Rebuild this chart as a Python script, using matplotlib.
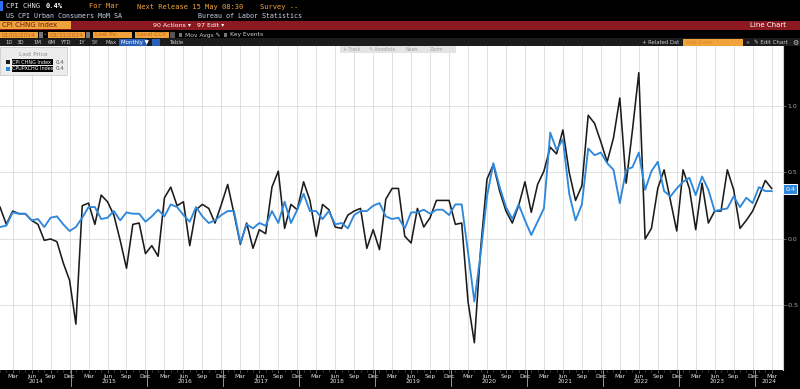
import numpy as np
import pandas as pd
import matplotlib
matplotlib.use("Agg")
import matplotlib.pyplot as plt
import matplotlib.transforms as mtransforms
from matplotlib.patches import Rectangle

# monthly % change, Jan 2014 .. Mar 2024
months = pd.date_range("2014-01-01", "2024-03-01", freq="MS")

cpi_chng = [
    0.24, 0.11, 0.21, 0.19, 0.19, 0.14, 0.11, -0.01, 0.00, -0.02, -0.18, -0.31,
    -0.64, 0.25, 0.27, 0.11, 0.33, 0.28, 0.18, -0.01, -0.22, 0.11, 0.12, -0.11,
    -0.05, -0.13, 0.31, 0.39, 0.25, 0.28, -0.05, 0.22, 0.26, 0.23, 0.12, 0.26,
    0.41, 0.19, -0.04, 0.12, -0.07, 0.07, 0.04, 0.39, 0.51, 0.08, 0.26, 0.22,
    0.43, 0.29, 0.02, 0.26, 0.22, 0.09, 0.08, 0.18, 0.21, 0.23, -0.07, 0.07,
    -0.08, 0.30, 0.38, 0.38, 0.02, -0.03, 0.23, 0.09, 0.16, 0.29, 0.29, 0.29,
    0.11, 0.12, -0.47, -0.78, -0.07, 0.45, 0.56, 0.36, 0.21, 0.12, 0.25, 0.43,
    0.20, 0.41, 0.51, 0.69, 0.64, 0.82, 0.50, 0.29, 0.40, 0.93, 0.87, 0.73,
    0.58, 0.76, 1.06, 0.42, 0.82, 1.25, 0.00, 0.08, 0.38, 0.52, 0.29, 0.06,
    0.52, 0.38, 0.07, 0.42, 0.12, 0.21, 0.21, 0.52, 0.37, 0.08, 0.14, 0.21,
    0.32, 0.44, 0.38,
]

cpupxchg = [
    0.09, 0.10, 0.20, 0.19, 0.19, 0.14, 0.15, 0.09, 0.16, 0.17, 0.11, 0.06,
    0.09, 0.16, 0.24, 0.24, 0.15, 0.16, 0.21, 0.14, 0.20, 0.19, 0.19, 0.13,
    0.17, 0.22, 0.17, 0.26, 0.24, 0.18, 0.13, 0.24, 0.17, 0.12, 0.14, 0.18,
    0.21, 0.21, -0.03, 0.11, 0.08, 0.12, 0.10, 0.21, 0.12, 0.28, 0.12, 0.22,
    0.34, 0.21, 0.21, 0.15, 0.21, 0.11, 0.12, 0.08, 0.18, 0.21, 0.21, 0.25,
    0.27, 0.17, 0.15, 0.16, 0.08, 0.20, 0.20, 0.22, 0.19, 0.22, 0.22, 0.18,
    0.26, 0.26, -0.10, -0.47, -0.11, 0.32, 0.57, 0.39, 0.24, 0.15, 0.26, 0.14,
    0.03, 0.13, 0.23, 0.80, 0.67, 0.75, 0.34, 0.14, 0.26, 0.68, 0.63, 0.65,
    0.57, 0.52, 0.27, 0.52, 0.54, 0.65, 0.37, 0.51, 0.58, 0.36, 0.32, 0.38,
    0.43, 0.46, 0.33, 0.47, 0.37, 0.21, 0.22, 0.23, 0.32, 0.24, 0.31, 0.27,
    0.39, 0.36, 0.36,
]

y_ticks = [-0.5, 0.0, 0.5, 1.0]
series_names = ["CPI CHNG Index", "CPUPXCHG Index"]
last_price = ["0.4", "0.4"]

W, H = 800, 389
AMBER = "#f0a33a"
BLACK_LINE = "#1b1b1b"
BLUE_LINE = "#2f88dc"

fig = plt.figure(figsize=(8, 3.89), dpi=100, facecolor="black")


def fx(x):
    return x / W


def fy(y):
    return 1 - y / H


def box(x0, y0, x1, y1, color, ec="none", lw=0, z=2):
    fig.patches.append(Rectangle((fx(x0), fy(y1)), (x1 - x0) / W, (y1 - y0) / H,
                                 transform=fig.transFigure, facecolor=color,
                                 edgecolor=ec, lw=lw, zorder=z))


def txt(x, y, s, color="white", size=5.5, ha="left", z=3, **kw):
    fig.text(fx(x), fy(y), s, color=color, fontsize=size, ha=ha, va="center",
             zorder=z, **kw)


mono = "DejaVu Sans Mono"

# --- header rows
box(0, 1, 3, 11, "#2f6fff")
txt(6, 6.5, "CPI CHNG", "#e6e6e6", 5.1, family=mono)
txt(46, 6.5, "0.4%", "white", 5.1, family=mono, weight="bold")
txt(89, 6.5, "For Mar", AMBER, 5.1, family=mono)
txt(137, 6.5, "Next Release 15 May 08:30", AMBER, 5.1, family=mono)
txt(260, 6.5, "Survey --", AMBER, 5.1, family=mono)
txt(6, 16, "US CPI Urban Consumers MoM SA", "#c9d6ec", 4.8, family=mono)
txt(198, 16, "Bureau of Labor Statistics", "#c9d6ec", 4.8, family=mono)

box(0, 20.5, 800, 29.5, "#8c1822")
box(0, 21, 71, 29, AMBER)
txt(2, 25.2, "CPI CHNG Index", "#6a1a10", 5.0)
txt(153, 25.2, "90 Actions \u25be", "white", 4.5)
txt(197, 25.2, "97 Edit \u25be", "white", 4.5)
txt(786, 25.2, "Line Chart", "white", 5.0, ha="right")

for x0, x1, s in [(0, 38, "01/01/2014"), (48, 85, "03/31/2024"),
                  (93, 132, "Last Px"), (135, 169, "Local CCY")]:
    box(x0, 31.5, x1, 38, AMBER)
    txt(x0 + 2, 34.8, s, "#c0621c", 4.2)
box(39, 32, 43, 37.5, "#777777")
box(86, 32, 90, 37.5, "#777777")
txt(44, 34.8, "-", "#cccccc", 4.5)
box(170, 32, 175, 37.5, "#555555")
box(179, 33, 182, 36.5, "#777777")
txt(185, 34.8, "Mov Avgs \u270e", "#cccccc", 4.3)
box(224, 33, 227, 36.5, "#777777")
txt(230, 34.8, "Key Events", "#cccccc", 4.3)

box(0, 38.5, 800, 46, "#1c1c1c")
for x, s in [(5, "1D"), (17, "3D"), (33, "1M"), (48, "6M"), (60, "YTD"),
             (78, "1Y"), (92, "5Y"), (105, "Max")]:
    txt(x, 42.5, s, "#cccccc", 3.9)
box(119, 39, 147, 46, "#2a5fb8")
txt(121, 42.5, "Monthly \u25bc", "white", 4.0)
box(152, 39.5, 160, 45.5, "#2a5fb8")
txt(169, 42.5, "Table", "#cccccc", 4.0)
txt(642, 42.5, "+ Related Dat", "#cccccc", 3.8)
box(683, 39, 743, 46, AMBER)
txt(686, 42.5, "Add Data", "#d5892c", 4.0)
txt(746, 42.5, "\u00ab", "#cccccc", 4.5)
txt(754, 42.5, "\u270e Edit Chart", "#cccccc", 4.0)
txt(792, 42.5, "\u2699", "#cccccc", 5.0)

# --- plot area
top_px, bot_px, right_px = 46, 370, 783
ax = fig.add_axes([0, 1 - bot_px / H, right_px / W, (bot_px - top_px) / H])
ax.set_facecolor("white")

x = np.arange(len(months))
ax.plot(x, cpi_chng, color=BLACK_LINE, lw=1.15, zorder=3)
ax.plot(x, cpupxchg, color=BLUE_LINE, lw=1.35, zorder=4)

ax.set_ylim(-0.985, 1.451)
ax.set_xlim(0.1, 123.8)

q_idx = [i for i, m in enumerate(months) if m.month in (3, 6, 9, 12)]
q_lab = [months[i].strftime("%b") for i in q_idx]
ax.set_xticks(q_idx)
ax.set_xticklabels(q_lab)
ax.set_xticks(x, minor=True)
ax.tick_params(axis="x", which="major", colors="#888888", labelcolor="#e0e0e0",
               labelsize=4.2, length=2, width=0.5, pad=1)
ax.tick_params(axis="x", which="minor", colors="#777777", length=1.2, width=0.4)

ax.yaxis.tick_right()
ax.set_yticks(y_ticks)
ax.set_yticklabels([f"{v:.1f}" for v in y_ticks])
ax.tick_params(axis="y", colors="#888888", labelcolor="#a8a8a8", labelsize=4.5,
               length=2, width=0.5, pad=1)

ax.grid(True, which="major", color="#dadada", lw=0.6)
ax.set_axisbelow(True)
for side in ["top", "left", "bottom"]:
    ax.spines[side].set_visible(False)
ax.spines["right"].set_color("#d0d0d0")
ax.spines["right"].set_linewidth(0.8)

# year labels and separators
trans = mtransforms.blended_transform_factory(ax.transData, ax.transAxes)
years = sorted(set(m.year for m in months))
x_lo, x_hi = ax.get_xlim()
for yr in years:
    seps = [i for i, m in enumerate(months) if m.year == yr and m.month == 12]
    start = max(x_lo, (yr - 2014) * 12 - 0.7)
    end = min(x_hi, (yr - 2014) * 12 + 11.3)
    ax.text((start + end) / 2, -0.034, str(yr), transform=trans, color="#e0e0e0",
            fontsize=4.2, ha="center", va="center")
    if seps:
        ax.plot([seps[0] + 0.3] * 2, [0, -0.05], transform=trans, color="#aaaaaa",
                lw=0.6, clip_on=False)

# last price tag (both series end at 0.4; the blue tag sits on top)
tag_trans = mtransforms.blended_transform_factory(ax.transAxes, ax.transData)
ax.text(1.003, cpupxchg[-1] + 0.015, last_price[1], transform=tag_trans, color="white",
        fontsize=4.5, ha="left", va="center", clip_on=False,
        bbox=dict(boxstyle="square,pad=0.35", fc=BLUE_LINE, ec="white", lw=0.7))

# toolbar strip inside plot
box(340, 46, 456, 53, "#e4e4e4")
for xx, s in [(343, "+ Track"), (369, "\u270e Annotate"), (405, "News"), (430, "Zoom")]:
    txt(xx, 49.5, s, "#a0a0a0", 3.3)

# legend
box(0, 47, 67, 75, "#ececec", ec="#c4c4c4", lw=0.5)
txt(33, 54.5, "Last Price", "#8a8a8a", 4.2, ha="center")
for row, (name, col, lp) in enumerate(zip(series_names, [BLACK_LINE, BLUE_LINE], last_price)):
    yy = 62 + row * 7
    box(5.5, yy - 2, 9.5, yy + 2, col, z=3)
    box(11.5, yy - 3, 53, yy + 3, "black", z=3)
    txt(12.3, yy, name, "white", 3.5, z=4)
    txt(56, yy, lp, "#555555", 4.0, z=4)

fig.savefig("out.png", dpi=100, facecolor="black")
